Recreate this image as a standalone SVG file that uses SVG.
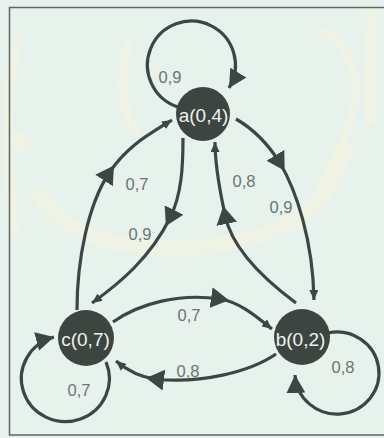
<svg xmlns="http://www.w3.org/2000/svg" width="384" height="438" viewBox="0 0 384 438">
  <style>
    .bg { fill: #e7f2ed; }
    .frame { fill: none; stroke: #5f6663; stroke-width: 1.5; }
    .wm { fill: none; stroke: #f7f4dc; stroke-linecap: round; opacity: 0.45; }
    .node circle { fill: #3d4541; }
    .node text { font-family: "Liberation Sans", Arial, sans-serif; font-size: 19px; fill: #eef2f0; text-anchor: middle; }
    .edge { fill: none; stroke: #3b4744; stroke-width: 3.2; }
    .label { font-family: "Liberation Sans", Arial, sans-serif; font-size: 16.5px; fill: #6d7471; text-anchor: middle; }
    .head { fill: #3b4744; }
  </style>
  <defs>
    <!-- large head: tip sits at the end of a path (self loops) -->
    <marker id="headEnd" viewBox="0 0 18 19" markerWidth="18" markerHeight="19" refX="18" refY="9.5" orient="auto" markerUnits="userSpaceOnUse">
      <path class="head" d="M0,0 L18,9.5 L0,19 Z"/>
    </marker>
    <!-- large head: centred on the vertex halfway along an edge -->
    <marker id="headMid" viewBox="0 0 18 21" markerWidth="18" markerHeight="21" refX="9" refY="10.5" orient="auto" markerUnits="userSpaceOnUse">
      <path class="head" d="M0,0 L18,10.5 L0,21 Z"/>
    </marker>
    <!-- small head at the target node -->
    <marker id="headSmall" viewBox="0 0 10 9" markerWidth="10" markerHeight="9" refX="10" refY="4.5" orient="auto" markerUnits="userSpaceOnUse">
      <path class="head" d="M0,0 L10,4.5 L0,9 Z"/>
    </marker>
  </defs>

  <rect class="bg" x="0" y="0" width="384" height="438"/>

  <!-- faint background calligraphy -->
  <g id="watermark">
    <path class="wm" stroke-width="16" d="M40,195 C70,255 200,262 280,228 C318,210 338,180 345,150"/>
    <path class="wm" stroke-width="10" d="M128,45 C118,80 122,110 135,130"/>
    <path class="wm" stroke-width="12" d="M372,10 L370,120"/>
    <path class="wm" stroke-width="9" d="M322,32 C350,45 362,78 352,115 C345,145 332,165 320,185"/>
    <path class="wm" stroke-width="10" d="M18,40 C6,80 6,150 14,230"/>
    <path class="wm" stroke-width="8" d="M20,136 L26,142 L20,148 L14,142 Z"/>
  </g>

  <rect class="frame" x="9.5" y="7.5" width="390" height="427.5"/>

  <g id="connectors">
    <!-- a self loop -->
    <path class="edge" marker-end="url(#headEnd)" d="M178,107 A44,44 0 1 1 229,88"/>
    <!-- c -> a -->
    <path class="edge" marker-mid="url(#headMid)" marker-end="url(#headSmall)" d="M77,310 C77,260 88,205 109,173 C127,146 148,135 172,120"/>
    <!-- a -> c -->
    <path class="edge" marker-mid="url(#headMid)" marker-end="url(#headSmall)" d="M183,138 C183,165 182,194 170,218 C150,258 120,283 92,303"/>
    <!-- b -> a -->
    <path class="edge" marker-mid="url(#headMid)" marker-end="url(#headSmall)" d="M296,303 C265,280 232,250 225,215 C221,195 215,170 215,142"/>
    <!-- a -> b -->
    <path class="edge" marker-mid="url(#headMid)" marker-end="url(#headSmall)" d="M236,119 C255,130 270,147 280,163 C296,190 313,240 314,300"/>
    <!-- c -> b -->
    <path class="edge" marker-mid="url(#headMid)" marker-end="url(#headSmall)" d="M113,322 C140,303 180,293 220,299 C240,302 258,318 272,329"/>
    <!-- b -> c -->
    <path class="edge" marker-mid="url(#headMid)" marker-end="url(#headSmall)" d="M276,354 C250,372 200,384 155,379 C140,377 128,371 116,361"/>
    <!-- c self loop -->
    <path class="edge" marker-end="url(#headEnd)" d="M106,362 A44,43 0 1 1 54,337"/>
    <!-- b self loop -->
    <path class="edge" marker-end="url(#headEnd)" d="M328,333 A42,41 0 1 1 295,375"/>
  </g>

  <g id="labels">
    <text class="label" x="170" y="83">0,9</text>
    <text class="label" x="137" y="190">0,7</text>
    <text class="label" x="244" y="187">0,8</text>
    <text class="label" x="281" y="213">0,9</text>
    <text class="label" x="140" y="240">0,9</text>
    <text class="label" x="189" y="321">0,7</text>
    <text class="label" x="188" y="377">0,8</text>
    <text class="label" x="79" y="396">0,7</text>
    <text class="label" x="343" y="373">0,8</text>
  </g>

  <g id="node-a" class="node">
    <circle cx="203" cy="114" r="27"/>
    <text x="203.5" y="122">a(0,4)</text>
  </g>
  <g id="node-c" class="node">
    <circle cx="86" cy="338" r="28"/>
    <text x="85.5" y="346">c(0,7)</text>
  </g>
  <g id="node-b" class="node">
    <circle cx="302" cy="337" r="28"/>
    <text x="300.5" y="346">b(0,2)</text>
  </g>
</svg>
